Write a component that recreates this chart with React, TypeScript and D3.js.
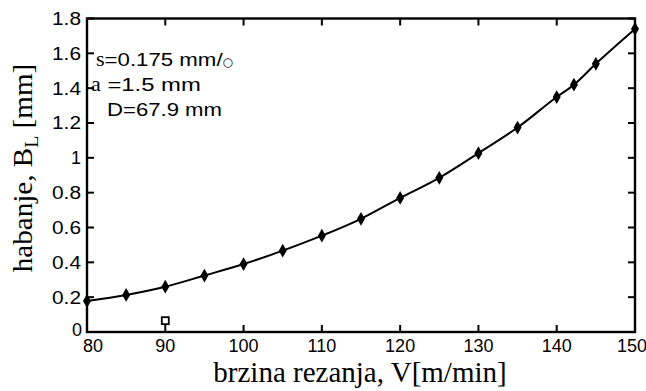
import { useEffect, useRef } from "react";
import * as d3 from "d3";

// brzina rezanja V [m/min] and habanje B_L [mm]
const speeds = [80, 85, 90, 95, 100, 105, 110, 115, 120, 125, 130, 135, 140, 142.2, 145, 150];
const wear = [0.178, 0.213, 0.26, 0.324, 0.39, 0.467, 0.553, 0.65, 0.77, 0.885, 1.027, 1.174, 1.349, 1.42, 1.54, 1.74];
// lone open square near the bottom
const outlier = [{ v: 90, b: 0.065 }];

const xTicks = [80, 90, 100, 110, 120, 130, 140, 150];
const yTicks = [0, 0.2, 0.4, 0.6, 0.8, 1, 1.2, 1.4, 1.6, 1.8];
const notes = ["=0.175 mm/", "a =1.5 mm", "D=67.9 mm"];

const App = () => {
  const ref = useRef<SVGSVGElement>(null);

  useEffect(() => {
    const svg = d3.select(ref.current);
    svg.selectAll("*").remove();

    const W = 646;
    const H = 391;
    const M = { LEFT: 87, RIGHT: 11, TOP: 18.5, BOTTOM: 59 };
    const sans = "'Liberation Sans', Arial, sans-serif";
    const serif = "'Liberation Serif', 'Times New Roman', serif";

    svg.append("rect").attr("width", W).attr("height", H).attr("fill", "#fff");

    const x = d3.scaleLinear().domain([80, 150]).range([M.LEFT, W - M.RIGHT]);
    const y = d3.scaleLinear().domain([0, 1.8]).range([H - M.BOTTOM, M.TOP]);

    const [x0, x1] = x.range();
    const [y0, y1] = y.range();

    // ticks, pointing inward on all four sides
    const tickLen = 7;
    const g = svg.append("g").attr("stroke", "#000").attr("stroke-width", 2);
    xTicks.forEach((t) => {
      g.append("line").attr("x1", x(t)).attr("x2", x(t)).attr("y1", y0).attr("y2", y0 - tickLen);
      g.append("line").attr("x1", x(t)).attr("x2", x(t)).attr("y1", y1).attr("y2", y1 + tickLen);
    });
    yTicks.forEach((t) => {
      g.append("line").attr("x1", x0).attr("x2", x0 + tickLen).attr("y1", y(t)).attr("y2", y(t));
      g.append("line").attr("x1", x1).attr("x2", x1 - tickLen).attr("y1", y(t)).attr("y2", y(t));
    });

    // box
    svg.append("rect")
      .attr("x", x0).attr("y", y1)
      .attr("width", x1 - x0).attr("height", y0 - y1)
      .attr("fill", "none").attr("stroke", "#000").attr("stroke-width", 2.4);

    // tick labels
    svg.append("g").selectAll("text").data(xTicks).join("text")
      .attr("x", (d) => (d === 80 ? x(d) + 6 : d === 150 ? x(d) - 3 : x(d)))
      .attr("y", 352)
      .attr("text-anchor", "middle")
      .attr("font-family", sans).attr("font-size", 18)
      .text((d) => d);

    svg.append("g").selectAll("text").data(yTicks.filter((d) => d > 0)).join("text")
      .attr("x", x0 - 6).attr("y", (d) => y(d))
      .attr("dy", "0.36em")
      .attr("text-anchor", "end")
      .attr("font-family", sans).attr("font-size", 18)
      .each(function (d) {
        if (String(d).length > 1) {
          d3.select(this).attr("textLength", 29).attr("lengthAdjust", "spacingAndGlyphs");
        }
      })
      .text((d) => d);

    svg.append("text")
      .attr("x", x0 - 5).attr("y", y0 + 4)
      .attr("text-anchor", "end")
      .attr("font-family", sans).attr("font-size", 18)
      .text("0");

    // curve
    const line = d3.line<number>()
      .x((_, i) => x(speeds[i]))
      .y((d) => y(d))
      .curve(d3.curveMonotoneX);

    svg.append("path")
      .datum(wear)
      .attr("fill", "none")
      .attr("stroke", "#000")
      .attr("stroke-width", 2)
      .attr("d", line);

    const diamond = d3.symbol().type(d3.symbolDiamond).size(55);
    svg.append("g").selectAll("path").data(wear).join("path")
      .attr("transform", (d, i) => `translate(${x(speeds[i])},${y(d)})`)
      .attr("d", diamond)
      .attr("fill", "#000");

    svg.append("g").selectAll("rect").data(outlier).join("rect")
      .attr("x", (d) => x(d.v) - 3.5).attr("y", (d) => y(d.b) - 3.5)
      .attr("width", 7).attr("height", 7)
      .attr("fill", "#fff").attr("stroke", "#000").attr("stroke-width", 1.8);

    // notes
    const n1 = svg.append("text").attr("x", 96).attr("y", 66)
      .attr("font-family", sans).attr("font-size", 18);
    n1.append("tspan").attr("font-family", serif).attr("font-size", 22).text("s");
    n1.append("tspan").attr("textLength", 118).attr("lengthAdjust", "spacingAndGlyphs").text(notes[0]);
    n1.append("tspan").attr("font-size", 12).attr("font-family", "'DejaVu Sans', sans-serif").text("○");

    const n2 = svg.append("text").attr("x", 91).attr("y", 91)
      .attr("font-family", sans).attr("font-size", 18);
    n2.append("tspan").attr("font-family", serif).attr("font-size", 22).text(notes[1].slice(0, 1));
    n2.append("tspan").attr("textLength", 100).attr("lengthAdjust", "spacingAndGlyphs").text(notes[1].slice(1));

    svg.append("text").attr("x", 107).attr("y", 116)
      .attr("font-family", sans).attr("font-size", 18)
      .attr("textLength", 115).attr("lengthAdjust", "spacingAndGlyphs")
      .text(notes[2]);

    // axis titles
    svg.append("text")
      .attr("x", 360).attr("y", 382)
      .attr("text-anchor", "middle")
      .attr("font-family", serif).attr("font-size", 29)
      .text("brzina rezanja, V[m/min]");

    const yl = svg.append("text")
      .attr("transform", `translate(32, 168) rotate(-90) scale(1.04, 1)`)
      .attr("text-anchor", "middle")
      .attr("font-family", serif).attr("font-size", 28);
    yl.append("tspan").text("habanje, B");
    yl.append("tspan").attr("font-size", 19).attr("dy", 6).text("L");
    yl.append("tspan").attr("dy", -6).text(" [mm]");
  }, []);

  return (
    <div style={{ position: "absolute", left: 0, top: 0 }}>
      <svg ref={ref} width={646} height={391} style={{ display: "block" }} />
    </div>
  );
};

export default App;
